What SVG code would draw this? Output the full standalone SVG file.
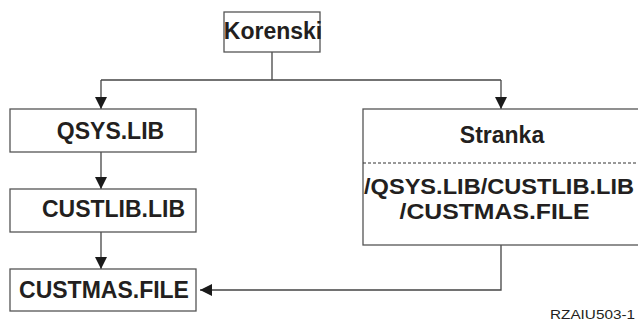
<svg xmlns="http://www.w3.org/2000/svg" width="638" height="322" viewBox="0 0 638 322">
  <style>
    .box { fill: #ffffff; stroke: #555555; stroke-width: 1.3; }
    .lbl { font-family: "Liberation Sans", Arial, sans-serif; font-weight: bold; font-size: 23px; fill: #231f20; text-anchor: middle; }
    .path { font-size: 22px; }
    .conn { fill: none; stroke: #444444; stroke-width: 1.3; }
    .sep { stroke: #333333; stroke-width: 1; stroke-dasharray: 3 2; }
    .tag { font-family: "Liberation Sans", Arial, sans-serif; font-size: 13.5px; fill: #231f20; }
  </style>
  <defs>
    <marker id="arrow" viewBox="0 0 12 12" refX="12" refY="6" markerWidth="12" markerHeight="12" markerUnits="userSpaceOnUse" orient="auto">
      <path d="M0,0 L12,6 L0,12 Z" fill="#1a1a1a"/>
    </marker>
  </defs>
  <rect width="638" height="322" fill="#ffffff"/>

  <g id="connectors">
    <path class="conn" d="M272,52 V80"/>
    <path class="conn" d="M101,80 H501"/>
    <path class="conn" d="M101,80 V109" marker-end="url(#arrow)"/>
    <path class="conn" d="M501,80 V109" marker-end="url(#arrow)"/>
    <path class="conn" d="M101,152 V189" marker-end="url(#arrow)"/>
    <path class="conn" d="M101,232 V269" marker-end="url(#arrow)"/>
    <path class="conn" d="M501,245 V290 H200" marker-end="url(#arrow)"/>
  </g>

  <g id="korenski">
    <rect class="box" x="224" y="12" width="96" height="40"/>
    <text class="lbl" x="273" y="39">Korenski</text>
  </g>

  <g id="qsys-lib">
    <rect class="box" x="10" y="109" width="186" height="43"/>
    <text class="lbl" x="110.5" y="139">QSYS.LIB</text>
  </g>

  <g id="custlib-lib">
    <rect class="box" x="10" y="189" width="186" height="43"/>
    <text class="lbl" x="113.5" y="217">CUSTLIB.LIB</text>
  </g>

  <g id="custmas-file">
    <rect class="box" x="10" y="269" width="186" height="42"/>
    <text class="lbl" x="104" y="298">CUSTMAS.FILE</text>
  </g>

  <g id="stranka">
    <rect class="box" x="363" y="109" width="280" height="136"/>
    <text class="lbl" x="502" y="143">Stranka</text>
    <line class="sep" x1="363" y1="163" x2="638" y2="163"/>
    <text class="lbl path" x="499" y="194" textLength="270" lengthAdjust="spacingAndGlyphs">/QSYS.LIB/CUSTLIB.LIB</text>
    <text class="lbl path" x="494.5" y="219" textLength="190" lengthAdjust="spacingAndGlyphs">/CUSTMAS.FILE</text>
  </g>

  <text class="tag" x="550" y="319" textLength="85" lengthAdjust="spacingAndGlyphs">RZAIU503-1</text>
</svg>
